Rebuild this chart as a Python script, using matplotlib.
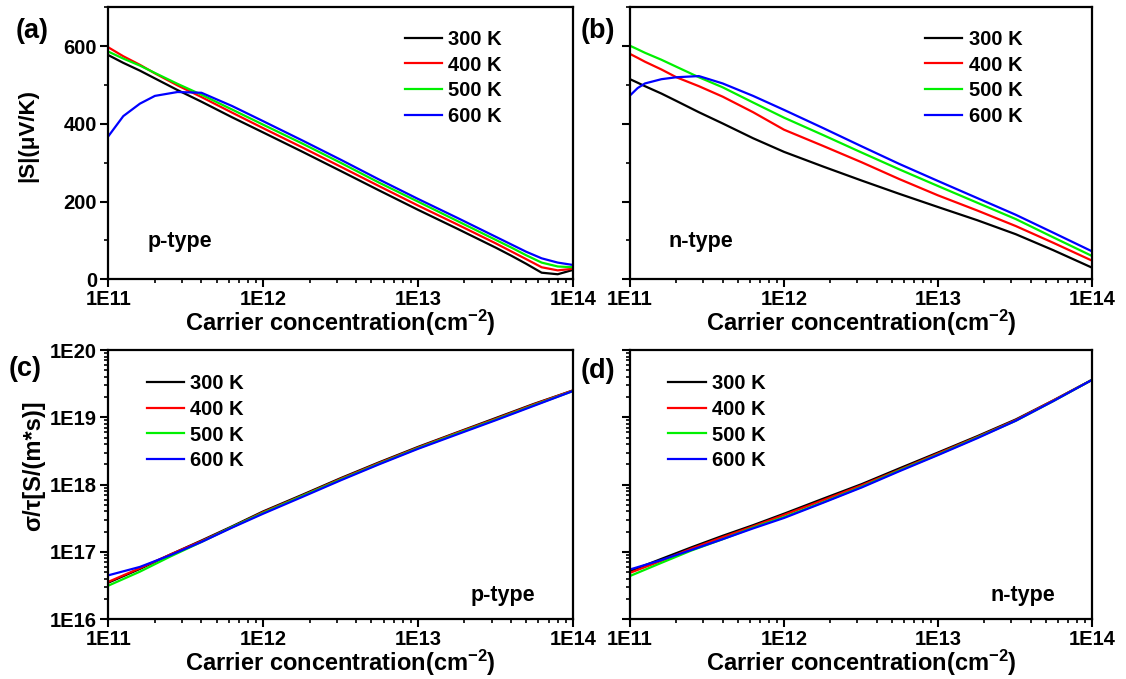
import matplotlib
matplotlib.use('Agg')
import matplotlib.pyplot as plt
from matplotlib.ticker import LogLocator, MultipleLocator, NullFormatter

plt.rcParams['font.family'] = ['Liberation Sans', 'DejaVu Sans']
plt.rcParams['font.weight'] = 'bold'
plt.rcParams['axes.labelweight'] = 'bold'
plt.rcParams['mathtext.fontset'] = 'custom'
plt.rcParams['mathtext.rm'] = 'Liberation Sans:bold'
plt.rcParams['mathtext.bf'] = 'Liberation Sans:bold'
plt.rcParams['mathtext.it'] = 'Liberation Sans:bold:italic'
plt.rcParams['mathtext.default'] = 'bf'

temps = ['300 K', '400 K', '500 K', '600 K']
colors = ['black', 'red', '#00f000', 'blue']

# ---- panel (a): p-type Seebeck |S| (uV/K)
conc_a = [1e11, 1.25e11, 1.6e11, 2e11, 2.8e11, 4e11, 6.3e11, 1e12, 1.8e12, 3.2e12,
          5.6e12, 1e13, 1.8e13, 3.2e13, 4e13, 5e13, 6.3e13, 8e13, 1e14]
S_p_300 = [577, 557, 537, 517, 487, 457, 417, 378, 328, 278, 229, 179, 130, 81, 61, 40, 17, 13, 24]
S_p_400 = [597, 574, 552, 530, 499, 469, 429, 389, 339, 289, 240, 190, 141, 92, 72, 52, 31, 23, 27]
S_p_500 = [586, 568, 550, 531, 503, 475, 437, 398, 349, 299, 249, 200, 150, 101, 82, 62, 43, 33, 31]
S_p_600 = [368, 420, 452, 472, 482, 480, 446, 407, 357, 307, 257, 207, 158, 109, 90, 71, 54, 43, 37]

# ---- panel (b): n-type Seebeck |S| (uV/K)
conc_b = [1e11, 1.12e11, 1.25e11, 1.6e11, 2e11, 2.8e11, 4e11, 6.3e11, 1e12, 1.8e12,
          3.2e12, 5.6e12, 1e13, 1.8e13, 3.2e13, 5.6e13, 1e14]
S_n_300 = [515, 506, 497, 478, 459, 430, 401, 363, 328, 290, 254, 220, 186, 152, 116, 75, 30]
S_n_400 = [580, 570, 560, 540, 520, 497, 470, 430, 385, 343, 301, 258, 216, 177, 137, 94, 48]
S_n_500 = [601, 592, 583, 565, 547, 520, 494, 455, 416, 371, 326, 283, 240, 197, 155, 108, 60]
S_n_600 = [473, 492, 504, 515, 520, 523, 504, 472, 436, 389, 342, 297, 253, 209, 166, 120, 72]

# ---- panels (c),(d): sigma/tau [S/(m*s)]
conc_cd = [1e11, 1.6e11, 2.5e11, 4e11, 6.3e11, 1e12, 1.8e12, 3.2e12, 5.6e12, 1e13,
           1.8e13, 3.2e13, 5.6e13, 1e14]
sig_p_300 = [3.5e16, 5.6e16, 9.1e16, 1.48e17, 2.4e17, 4.0e17, 7.1e17, 1.26e18, 2.14e18, 3.63e18, 6.0e18, 9.8e18, 1.58e19, 2.5e19]
sig_p_400 = [3.6e16, 5.75e16, 9.1e16, 1.45e17, 2.34e17, 3.9e17, 6.9e17, 1.23e18, 2.09e18, 3.55e18, 5.9e18, 9.55e18, 1.55e19, 2.5e19]
sig_p_500 = [3.16e16, 5.1e16, 8.5e16, 1.41e17, 2.34e17, 3.8e17, 6.8e17, 1.2e18, 2.04e18, 3.47e18, 5.75e18, 9.3e18, 1.51e19, 2.45e19]
sig_p_600 = [4.5e16, 6.0e16, 8.9e16, 1.41e17, 2.3e17, 3.7e17, 6.6e17, 1.17e18, 2.0e18, 3.4e18, 5.6e18, 9.1e18, 1.48e19, 2.45e19]

sig_n_300 = [5.2e16, 7.9e16, 1.17e17, 1.74e17, 2.5e17, 3.7e17, 6.2e17, 1.02e18, 1.74e18, 3.0e18, 5.25e18, 9.3e18, 1.78e19, 3.6e19]
sig_n_400 = [4.9e16, 7.4e16, 1.12e17, 1.66e17, 2.4e17, 3.55e17, 5.9e17, 9.8e17, 1.66e18, 2.9e18, 5.1e18, 9.1e18, 1.78e19, 3.6e19]
sig_n_500 = [4.4e16, 6.9e16, 1.05e17, 1.55e17, 2.3e17, 3.3e17, 5.5e17, 9.3e17, 1.62e18, 2.8e18, 5.0e18, 8.9e18, 1.74e19, 3.6e19]
sig_n_600 = [5.5e16, 7.6e16, 1.07e17, 1.55e17, 2.24e17, 3.2e17, 5.4e17, 9.1e17, 1.58e18, 2.75e18, 4.9e18, 8.9e18, 1.74e19, 3.6e19]

xticks = [1e11, 1e12, 1e13, 1e14]
xticklabels = ['1E11', '1E12', '1E13', '1E14']
yticks_sig = [1e16, 1e17, 1e18, 1e19, 1e20]
yticklabels_sig = ['1E16', '1E17', '1E18', '1E19', '1E20']

W, H = 1126, 679
fig = plt.figure(figsize=(W / 100, H / 100), dpi=100)

def ax_at(left, top, right, bottom):
    return fig.add_axes([left / W, 1 - bottom / H, (right - left) / W, (bottom - top) / H])

axA = ax_at(108.3, 7.3, 572.7, 279.3)
axB = ax_at(630, 7.3, 1092, 279.3)
axC = ax_at(108.3, 350, 572.7, 619.3)
axD = ax_at(630, 350, 1092, 619.3)

xlabel = r'Carrier concentration(cm$^{-2}$)'

def style(ax, show_ylabels):
    ax.set_xscale('log')
    ax.set_xlim(1e11, 1e14)
    ax.set_xticks(xticks)
    ax.set_xticklabels(xticklabels)
    ax.xaxis.set_minor_locator(LogLocator(base=10, subs=range(2, 10)))
    ax.xaxis.set_minor_formatter(NullFormatter())
    for s in ax.spines.values():
        s.set_linewidth(1.6)
    ax.tick_params(which='major', direction='out', length=6, width=1.5, labelsize=14.5, pad=2)
    ax.tick_params(which='minor', direction='out', length=3, width=1.2)
    ax.tick_params(top=False, right=False, which='both')
    ax.set_xlabel(xlabel, fontsize=17, labelpad=-1)
    if not show_ylabels:
        ax.tick_params(axis='y', labelleft=False)

style(axA, True)
style(axB, False)
style(axC, True)
style(axD, False)

for ax in (axA, axB):
    ax.set_ylim(0, 700)
    ax.yaxis.set_major_locator(MultipleLocator(200))
    ax.yaxis.set_minor_locator(MultipleLocator(100))

for ax in (axC, axD):
    ax.set_yscale('log')
    ax.set_ylim(1e16, 1e20)
    ax.set_yticks(yticks_sig)
    ax.set_yticklabels(yticklabels_sig)
    ax.yaxis.set_minor_locator(LogLocator(base=10, subs=range(2, 10)))
    ax.yaxis.set_minor_formatter(NullFormatter())
    if ax is axD:
        ax.tick_params(axis='y', labelleft=False)

for ys, c, t in zip([S_p_300, S_p_400, S_p_500, S_p_600], colors, temps):
    axA.plot(conc_a, ys, color=c, lw=1.6, label=t)
for ys, c, t in zip([S_n_300, S_n_400, S_n_500, S_n_600], colors, temps):
    axB.plot(conc_b, ys, color=c, lw=1.6, label=t)
for ys, c, t in zip([sig_p_300, sig_p_400, sig_p_500, sig_p_600], colors, temps):
    axC.plot(conc_cd, ys, color=c, lw=1.6, label=t)
for ys, c, t in zip([sig_n_300, sig_n_400, sig_n_500, sig_n_600], colors, temps):
    axD.plot(conc_cd, ys, color=c, lw=1.6, label=t)

axA.set_ylabel('|S|(μV/K)', fontsize=16)
axA.yaxis.set_label_coords(-0.15, 0.53)
axC.set_ylabel('σ/τ[S/(m*s)]', fontsize=17)
axC.yaxis.set_label_coords(-0.137, 0.57)

leg_kw = dict(frameon=False, fontsize=14.5, handlelength=1.85, handletextpad=0.3,
              labelspacing=0.33, borderpad=0, borderaxespad=0, loc='upper left')
axA.legend(bbox_to_anchor=(0.639, 0.917), **leg_kw)
axB.legend(bbox_to_anchor=(0.639, 0.917), **leg_kw)
axC.legend(bbox_to_anchor=(0.083, 0.91), **leg_kw)
axD.legend(bbox_to_anchor=(0.083, 0.91), **leg_kw)

axA.text(0.084, 0.14, 'p-type', transform=axA.transAxes, fontsize=15.5, ha='left', va='center')
axB.text(0.084, 0.14, 'n-type', transform=axB.transAxes, fontsize=15.5, ha='left', va='center')
axC.text(0.92, 0.09, 'p-type', transform=axC.transAxes, fontsize=15.5, ha='right', va='center')
axD.text(0.92, 0.09, 'n-type', transform=axD.transAxes, fontsize=15.5, ha='right', va='center')

for lab, x, y in [('(a)', 32, 31), ('(b)', 598, 31), ('(c)', 25, 369), ('(d)', 598, 371)]:
    fig.text(x / W, 1 - y / H, lab, fontsize=19.5, ha='center', va='center')

fig.savefig('out.png', dpi=100)
